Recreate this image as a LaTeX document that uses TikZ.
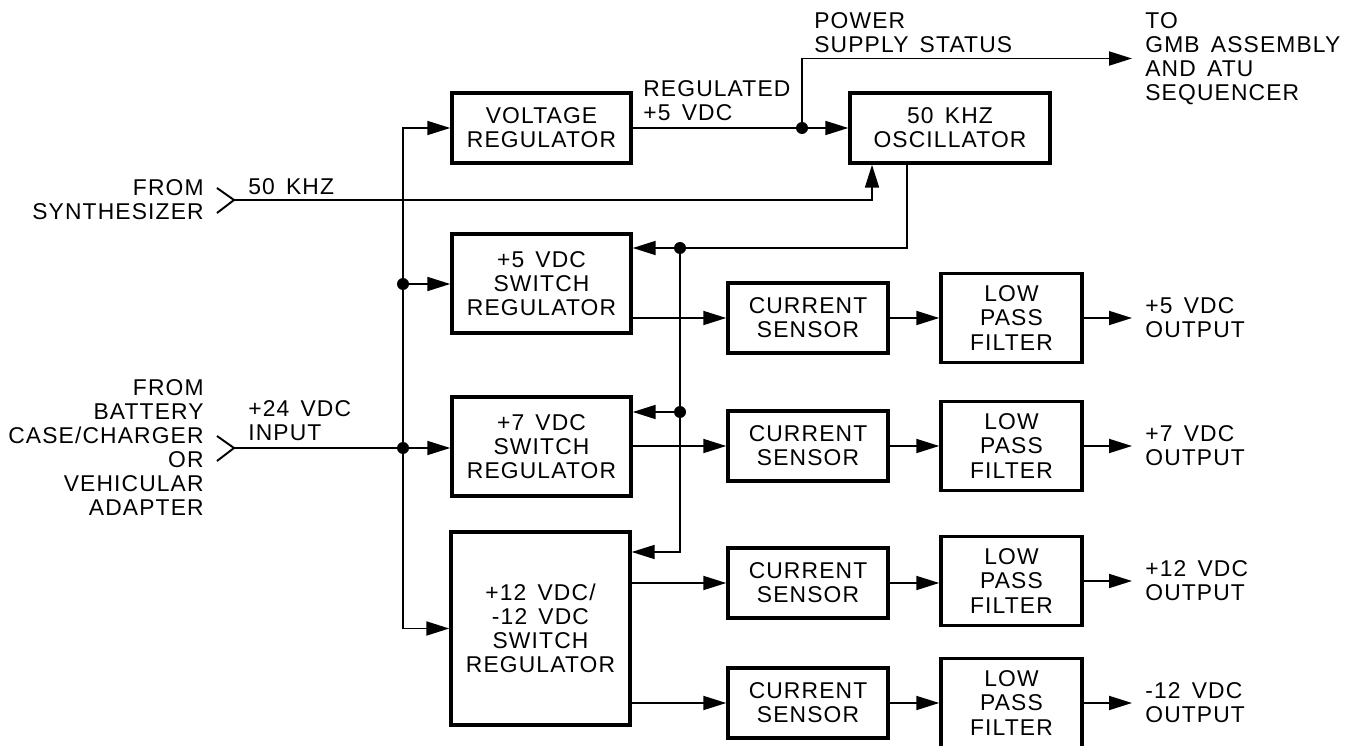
\documentclass[tikz,border=0pt]{standalone}
\usepackage{fontspec}
\setmainfont{Liberation Sans}[LetterSpace=5,WordSpace=1.5]
\usetikzlibrary{arrows.meta}

\begin{document}
\begin{tikzpicture}[x=0.02cm, y=-0.02cm,
    font=\fontsize{13pt}{13.7pt}\selectfont,
    >={Triangle[length=0.46cm,width=0.28cm]},
    wire/.style={line width=1.1pt},
    blk/.style={draw, line width=2pt, align=center, inner sep=0pt},
    dot/.style={circle, fill, inner sep=0pt, minimum size=0.24cm},
    lbl/.style={inner sep=0pt}]

     \useasboundingbox (0,0) rectangle (1346,746);

     % regulators
     \node[blk, minimum width=3.58cm, minimum height=1.4cm] (vreg) at (541.5,128) {VOLTAGE\\REGULATOR};
     \node[blk, minimum width=4cm, minimum height=1.4cm] (osc) at (950,128) {50 KHZ\\OSCILLATOR};
     \node[blk, minimum width=3.58cm, minimum height=1.98cm] (sw5) at (541.5,283.5) {+5 VDC\\SWITCH\\REGULATOR};
     \node[blk, minimum width=3.58cm, minimum height=1.98cm] (sw7) at (541.5,446.5) {+7 VDC\\SWITCH\\REGULATOR};
     \node[blk, minimum width=3.58cm, minimum height=3.86cm] (sw12) at (540.5,628.5) {+12 VDC/\\-12 VDC\\SWITCH\\REGULATOR};

     % current sensors
     \node[blk, minimum width=3.2cm, minimum height=1.4cm] (cs1) at (808,318) {CURRENT\\SENSOR};
     \node[blk, minimum width=3.2cm, minimum height=1.4cm] (cs2) at (808,446) {CURRENT\\SENSOR};
     \node[blk, minimum width=3.2cm, minimum height=1.4cm] (cs3) at (808,583) {CURRENT\\SENSOR};
     \node[blk, minimum width=3.2cm, minimum height=1.4cm] (cs4) at (808,703) {CURRENT\\SENSOR};

     % filters
     \node[blk, minimum width=2.82cm, minimum height=1.78cm] (lpf1) at (1011.5,318) {LOW\\PASS\\FILTER};
     \node[blk, minimum width=2.82cm, minimum height=1.78cm] (lpf2) at (1011.5,446) {LOW\\PASS\\FILTER};
     \node[blk, minimum width=2.82cm, minimum height=1.78cm] (lpf3) at (1011.5,581) {LOW\\PASS\\FILTER};
     \node[blk, minimum width=2.82cm, minimum height=1.78cm] (lpf4) at (1011.5,703) {LOW\\PASS\\FILTER};

     % outputs
     \node[lbl, anchor=west, align=left] (out1) at (1145,318) {+5 VDC\\OUTPUT};
     \node[lbl, anchor=west, align=left] (out2) at (1145,446) {+7 VDC\\OUTPUT};
     \node[lbl, anchor=west, align=left] (out3) at (1145,581) {+12 VDC\\OUTPUT};
     \node[lbl, anchor=west, align=left] (out4) at (1145,703) {-12 VDC\\OUTPUT};
     \node[lbl, anchor=west, align=left] (gmb) at (1145,58.5) {TO\\GMB ASSEMBLY\\AND ATU\\SEQUENCER};

     % inputs
     \node[lbl, anchor=east, align=right] (synth) at (204,200) {FROM\\SYNTHESIZER};
     \node[lbl, anchor=east, align=right] (batt) at (204,447.5) {FROM\\BATTERY\\CASE/CHARGER\\OR\\VEHICULAR\\ADAPTER};
     \coordinate (syn) at (234,200);
     \coordinate (in24) at (234,448);
     \draw[wire] (syn) ++(-17,-12) -- (syn) -- ++(-17,13);
     \draw[wire] (in24) ++(-17,-12) -- (in24) -- ++(-17,13);

     % line labels
     \node[lbl, anchor=west] (khz) at (248,187) {50 KHZ};
     \node[lbl, anchor=west, align=left] (vin) at (248,420.5) {+24 VDC\\INPUT};
     \node[lbl, anchor=west, align=left] (reg5) at (643,101) {REGULATED\\+5 VDC};
     \node[lbl, anchor=west, align=left] (pss) at (814,33) {POWER\\SUPPLY STATUS};

     % junctions
     \node[dot] (busA) at (403,284) {};
     \node[dot] (busB) at (403,448) {};
     \node[dot] (dotr1) at (680,248) {};
     \node[dot] (dotr2) at (680,412) {};
     \node[dot] (stdot) at (802,128) {};
     \coordinate (b12) at (680,552);

     % +24 VDC bus
     \draw[wire] (in24) -- (busB);
     \draw[wire] (busA) -- (busB);
     \draw[wire, ->] (busA) |- (vreg.west);
     \draw[wire, ->] (busA) -- (sw5.west |- busA);
     \draw[wire, ->] (busB) -- (sw7.west |- busB);
     \draw[wire, ->] (busB) |- (sw12.west);

     % 50 KHZ
     \draw[wire, ->] (syn) -| ([xshift=-1.56cm]osc.south);
     \draw[wire, ->] (vreg.east) -- (osc.west);
     \draw[wire, ->, shorten >=0.26cm] (stdot) |- (gmb.west);
     \draw[wire] ([xshift=-0.86cm]osc.south) |- (dotr1);
     \draw[wire, ->] (dotr1) -- (sw5.east |- dotr1);
     \draw[wire] (dotr1) -- (dotr2);
     \draw[wire, ->] (dotr2) -- (sw7.east |- dotr2);
     \draw[wire, ->] (dotr2) -- (b12) -- (sw12.east |- b12);

     % output chains
     \draw[wire, ->] (sw5.east |- cs1) -- (cs1);
     \draw[wire, ->] (sw7.east |- cs2) -- (cs2);
     \draw[wire, ->] (sw12.east |- cs3) -- (cs3);
     \draw[wire, ->] (sw12.east |- cs4) -- (cs4);
     \draw[wire, ->] (cs1) -- (lpf1);
     \draw[wire, ->] (cs2) -- (lpf2);
     \draw[wire, ->] (cs3) -- (lpf3.west |- cs3);
     \draw[wire, ->] (cs4) -- (lpf4);
     \draw[wire, ->, shorten >=0.26cm] (lpf1) -- (out1.west);
     \draw[wire, ->, shorten >=0.26cm] (lpf2) -- (out2.west);
     \draw[wire, ->, shorten >=0.26cm] (lpf3) -- (out3.west);
     \draw[wire, ->, shorten >=0.26cm] (lpf4) -- (out4.west);

\end{tikzpicture}
\end{document}
